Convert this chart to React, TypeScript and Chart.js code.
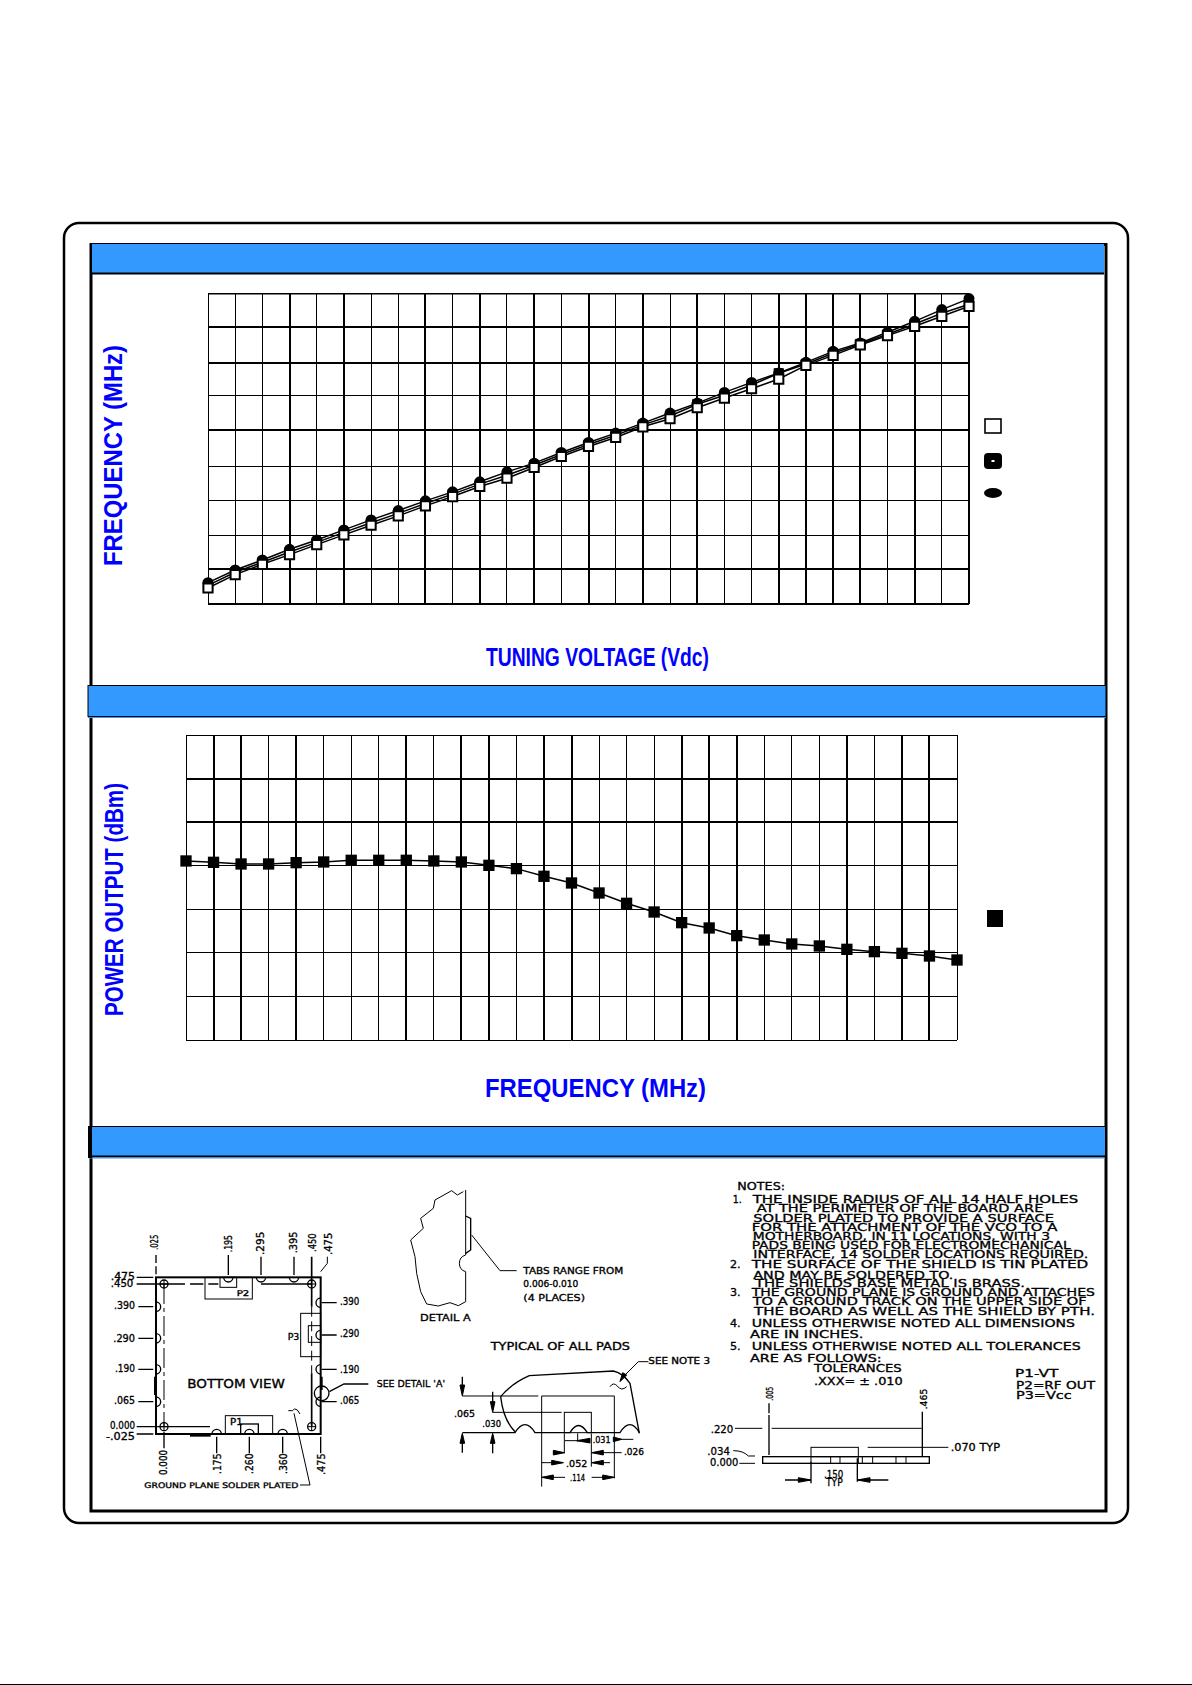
import React, { useEffect, useRef } from "react";
import { Chart, registerables } from "chart.js";

Chart.register(...registerables);

// ---------- chart data (no axis numbers are printed in the reference; values are in grid divisions)
const tuningSteps = [0,1,2,3,4,5,6,7,8,9,10,11,12,13,14,15,16,17,18,19,20,21,22,23,24,25,26,27,28];
const freqLow = [0.465,0.853,1.153,1.434,1.725,2.006,2.287,2.558,2.849,3.12,3.411,3.653,3.963,4.283,4.574,4.835,5.145,5.378,5.698,5.979,6.25,6.531,6.928,7.219,7.519,7.791,8.062,8.353,8.643];
const freqMid = [0.54,0.92,1.21,1.51,1.79,2.08,2.36,2.63,2.92,3.19,3.48,3.74,4.03,4.34,4.63,4.9,5.2,5.46,5.8,6.06,6.36,6.7,6.97,7.28,7.55,7.83,8.13,8.44,8.7];
const freqHigh = [0.62,0.988,1.279,1.589,1.86,2.151,2.442,2.713,2.994,3.256,3.547,3.837,4.089,4.399,4.69,4.961,5.252,5.543,5.833,6.143,6.434,6.705,7.016,7.335,7.578,7.888,8.207,8.547,8.866];
const freqSteps = [0,1,2,3,4,5,6,7,8,9,10,11,12,13,14,15,16,17,18,19,20,21,22,23,24,25,26,27,28];
const powerOut = [4.109,4.078,4.04,4.04,4.07,4.086,4.124,4.124,4.124,4.109,4.086,4.009,3.933,3.757,3.604,3.374,3.137,2.938,2.693,2.571,2.395,2.295,2.204,2.158,2.081,2.028,1.989,1.928,1.836];

// horizontal grid values
const tuningGrid = [0,1.02,2,3.01,4,5.06,6.04,7.01,8.03,9];
const powerGrid = [0,1,2,3,4,5,6,7];

// grid line weights, as they appear in the reference (left to right, bottom to top)
const g1X = [1,1,1,2,1,2,1,1,2,1,2,1,2,1,2,1,2,1,2,1,1,2,2,2,2,1,2,1,2];
const g1Y = [2,2,1,1,1,2,1,2,2,1.5];
const g2X = [1,2,2,1,2,1,1,1,2,1,2,2,1,2,2,1,1,1,2,2,2,1,1,1,2,1,2,2,1];
const g2Y = [1,1,1,1,1,2,2,1];

const FONT = "'Liberation Sans', Arial, sans-serif";
const CAD = "'DejaVu Sans', sans-serif";
const BLUE = "#3399ff";
const TITLE = "#0000ff";

function PlotCanvas({ left, top, width, height, config }: any) {
  const ref = useRef<HTMLCanvasElement>(null);
  useEffect(() => {
    const chart = new Chart(ref.current as HTMLCanvasElement, config);
    return () => chart.destroy();
  }, []);
  return (
    <canvas
      ref={ref}
      width={width}
      height={height}
      style={{ position: "absolute", left, top, width, height }}
    />
  );
}

const baseOptions = (xMax: number, yMax: number, gx: number[], gy: number[], yValues: number[]) => ({
  responsive: false,
  animation: false as const,
  layout: { padding: 20 },
  plugins: { legend: { display: false }, tooltip: { enabled: false } },
  elements: { line: { tension: 0 } },
  scales: {
    x: {
      type: "linear" as const,
      min: 0,
      max: xMax,
      ticks: { display: false, stepSize: 1, autoSkip: false },
      border: { display: false },
      grid: { color: "#000", lineWidth: gx, drawTicks: false },
    },
    y: {
      type: "linear" as const,
      min: 0,
      max: yMax,
      afterBuildTicks: (scale: any) => {
        scale.ticks = yValues.map((value) => ({ value }));
      },
      ticks: { display: false, autoSkip: false },
      border: { display: false },
      grid: { color: "#000", lineWidth: gy, drawTicks: false },
    },
  },
});

const toXY = (xs: number[], ys: number[]) => ys.map((y, i) => ({ x: xs[i], y }));

const tuningConfig: any = {
  type: "line",
  data: {
    datasets: [
      { label: "Low", data: toXY(tuningSteps, freqLow), borderColor: "#000", borderWidth: 1.5, pointStyle: "rect", pointRadius: 6.5, pointBackgroundColor: "#fff", pointBorderColor: "#000", pointBorderWidth: 2, clip: false },
      { label: "Mid", data: toXY(tuningSteps, freqMid), borderColor: "#000", borderWidth: 1.5, pointStyle: "rect", pointRadius: 6.5, pointBackgroundColor: "#000", pointBorderColor: "#000", pointBorderWidth: 1, clip: false },
      { label: "High", data: toXY(tuningSteps, freqHigh), borderColor: "#000", borderWidth: 1.5, pointStyle: "circle", pointRadius: 5.5, pointBackgroundColor: "#000", pointBorderColor: "#000", pointBorderWidth: 0, clip: false },
    ],
  },
  options: baseOptions(28, 9, g1X, g1Y, tuningGrid),
};

const powerConfig: any = {
  type: "line",
  data: {
    datasets: [
      { label: "Power", data: toXY(freqSteps, powerOut), borderColor: "#000", borderWidth: 1.5, pointStyle: "rect", pointRadius: 8, pointBackgroundColor: "#000", pointBorderColor: "#000", pointBorderWidth: 0, clip: false },
    ],
  },
  options: baseOptions(28, 7, g2X, g2Y, powerGrid),
};

// ---------- page furniture
function AxisText({ x, y, len, s, rot, size = 25 }: any) {
  return (
    <text
      transform={`translate(${x},${y})${rot ? " rotate(-90)" : ""}`}
      textLength={len}
      lengthAdjust="spacingAndGlyphs"
      fontFamily={FONT}
      fontSize={size}
      fontWeight="bold"
      fill={TITLE}
    >
      {s}
    </text>
  );
}

// CAD annotation: x, baseline and length are given in 3x crop units inside the scaled groups
function T({ x, y, len, s, rot, size = 31 }: any) {
  return (
    <text
      transform={`translate(${x},${y})${rot ? " rotate(-90)" : ""}`}
      textLength={len}
      lengthAdjust="spacingAndGlyphs"
      fontFamily={CAD}
      fontSize={size}
      stroke="#000"
      strokeWidth={1}
      fill="#000"
    >
      {s}
    </text>
  );
}

const leftDims: [string, number, number, number][] = [
  [".475", 62, 73, 360],
  [".450", 62, 68, 380],
  [".390", 72, 63, 448],
  [".290", 70, 65, 545],
  [".190", 75, 60, 635],
  [".065", 72, 63, 732],
  ["0.000", 60, 75, 808],
  ["-.025", 48, 87, 840],
];
const rightDims: [string, number][] = [[".390", 434], [".290", 530], [".190", 638], [".065", 732]];
const topDims: [string, number, number, number][] = [
  [".195", 425, 277, 52],
  [".295", 523, 285, 70],
  [".395", 622, 280, 65],
  [".450", 678, 276, 56],
  [".475", 725, 285, 67],
];
const bottomDims: [string, number, number, number][] = [
  ["0.000", 232, 945, 75],
  [".175", 392, 942, 62],
  [".260", 490, 942, 62],
  [".360", 590, 942, 62],
  [".475", 704, 945, 65],
];
const cornerHoles = [[222, 372], [665, 372], [222, 800], [665, 800]];
const topHoles = [415, 513, 612];
const bottomHoles = [380, 478, 578];
const leftHoles = [440, 535, 628, 725];
const rightHoles = [428, 525, 628, 725];

function BottomView() {
  return (
    <g transform="translate(90,1160) scale(0.33333)" fill="none" stroke="#000" strokeWidth={4}>
      <rect x={198} y={352} width={494} height={470} strokeWidth={6} />
      <path d="M198 285V352" strokeDasharray="24 10" />
      <path d="M222 372V800" strokeDasharray="60 12 12 12" strokeWidth={3} />
      <path d="M665 290V440M665 640V800" strokeWidth={5} />
      <path d="M665 440V640" strokeDasharray="30 14" strokeWidth={3} />
      <path d="M140 372H285M300 372H340M355 372H385M513 372H665" strokeWidth={5} />
      <path d="M140 352H190M145 440H190M145 535H190M145 628H190M145 725H190M140 800H360M140 822H190" />
      <path d="M695 428H740M695 525H740M695 628H740M695 725H740" />
      <path d="M415 285V345M513 290V345M612 290V345M222 815V865M380 830V880M478 830V880M578 830V880M692 830V880" />
      <path d="M195 650V705M695 650V690" strokeWidth={6} />
      <path d="M300 827H362" strokeWidth={6} />
      <rect x={345} y={352} width={142} height={65} strokeWidth={3} />
      <rect x={390} y={352} width={50} height={30} strokeWidth={3} />
      <rect x={632} y={460} width={60} height={130} strokeWidth={3} />
      <rect x={655} y={497} width={37} height={50} strokeWidth={3} />
      <rect x={406} y={767} width={142} height={55} strokeWidth={3} />
      <rect x={452} y={792} width={53} height={30} strokeWidth={4} />
      {cornerHoles.map(([x, y]) => (
        <g key={`${x}-${y}`}>
          <circle cx={x} cy={y} r={12} />
          <path d={`M${x - 12} ${y}H${x + 12}M${x} ${y - 12}V${y + 12}`} strokeWidth={3} />
        </g>
      ))}
      {topHoles.map((x) => <path key={x} d={`M${x - 14} 352A14 14 0 0 0 ${x + 14} 352`} />)}
      {bottomHoles.map((x) => <path key={x} d={`M${x - 14} 822A14 14 0 0 1 ${x + 14} 822`} />)}
      {leftHoles.map((y) => <path key={y} d={`M198 ${y - 14}A14 14 0 0 1 198 ${y + 14}`} />)}
      {rightHoles.map((y) => <path key={y} d={`M692 ${y - 14}A14 14 0 0 0 692 ${y + 14}`} />)}
      <circle cx={695} cy={700} r={22} />
      <path d="M718 695L762 672H835" />
      <path d="M692 335L712 310V290" strokeWidth={3} />
      <path d="M595 752H608Q612 742 622 750L630 762M612 760L660 975H630" strokeWidth={3} />
      {leftDims.map(([s, x, len, y]) => <T key={s + y} s={s} x={x} len={len} y={y} />)}
      {rightDims.map(([s, y]) => <T key={s + y} s={s} x={750} len={58} y={y} />)}
      {topDims.map(([s, x, y, len]) => <T key={s + x} s={s} x={x} y={y} len={len} rot />)}
      {bottomDims.map(([s, x, y, len]) => <T key={s + x} s={s} x={x} y={y} len={len} rot />)}
      <T s=".025" x={205} y={270} len={46} rot />
      <T s="BOTTOM VIEW" x={292} y={685} len={293} size={36} />
      <T s="P2" x={440} y={408} len={38} size={24} />
      <T s="P3" x={593} y={540} len={35} size={26} />
      <T s="P1" x={420} y={794} len={38} size={26} />
      <T s="GROUND PLANE SOLDER PLATED" x={163} y={983} len={462} size={23} />
      <T s="SEE DETAIL 'A'" x={860} y={682} len={205} size={28} />
    </g>
  );
}

function Details() {
  return (
    <g transform="translate(400,1160) scale(0.33333)" fill="none" stroke="#000" strokeWidth={3}>
      <path d="M197 90V285A26 26 0 0 0 197 335V425L175 437L150 428L115 438L80 432L62 395L50 340L45 290L32 240L70 205L62 175L100 145L105 120L155 92L172 105L190 95" />
      <path d="M197 168L212 175V270L197 280" strokeWidth={4} />
      <path d="M215 225L300 332H350" />
      <path d="M302 710Q335 670 388 647L640 633Q670 640 690 670L718 820M302 710Q310 780 345 815" strokeWidth={4} />
      <path d="M187 818H345Q375 770 405 818H510Q535 775 562 818H660Q690 770 718 818" strokeWidth={4} />
      <rect x={493} y={757} width={81} height={61} />
      <path d="M187 708H415M425 708H643M278 757H485M425 708V980M643 708V955" />
      <path d="M493 820V880M574 820V920M533 820V845M495 842H570M640 838H700M460 878H493M575 878H665M425 908H490M575 908H630M425 952H495M575 952H643" />
      <path d="M187 650V700M187 825V878M278 695V750M278 825V880" strokeWidth={4} />
      <path d="M180 675L187 708L194 675ZM180 850L187 820L194 850ZM271 725L278 757L285 725ZM271 850L278 820L285 850Z" fill="#000" />
      <path d="M530 842L570 835V849ZM665 838L640 831V845ZM493 878L460 871V885ZM575 878L610 871V885ZM490 908L455 901V915ZM575 908L610 901V915ZM425 952L460 945V959ZM643 952L608 945V959Z" fill="#000" />
      <path d="M660 660L715 605H745M630 680Q640 665 652 678Q664 695 680 680" />
      <path d="M660 665L680 645L668 638Z" fill="#000" />
      <T s="TABS RANGE FROM" x={370} y={342} len={300} size={28} />
      <T s="0.006-0.010" x={370} y={382} len={165} size={26} />
      <T s="(4 PLACES)" x={370} y={422} len={185} size={28} />
      <T s="DETAIL A" x={60} y={482} len={152} size={28} />
      <T s="TYPICAL OF ALL PADS" x={272} y={570} len={418} size={30} />
      <T s="SEE NOTE 3" x={745} y={613} len={185} size={26} />
      <T s=".065" x={162} y={772} len={63} size={28} />
      <T s=".030" x={247} y={800} len={56} size={26} />
      <T s=".031" x={578} y={850} len={54} size={26} />
      <T s=".026" x={672} y={886} len={60} size={26} />
      <T s=".052" x={498} y={920} len={64} size={26} />
      <T s=".114" x={510} y={962} len={45} size={26} />
    </g>
  );
}

const notes: [string, number, number, number][] = [
  ["NOTES:", 112, 143, 90],
  ["1.", 98, 27, 130],
  ["THE INSIDE RADIUS OF ALL 14 HALF HOLES", 158, 977, 130],
  ["AT THE PERIMETER OF THE BOARD ARE", 170, 860, 155],
  ["SOLDER PLATED TO PROVIDE A SURFACE", 160, 902, 185],
  ["FOR THE ATTACHMENT OF THE VCO TO A", 155, 917, 212],
  ["MOTHERBOARD, IN 11 LOCATIONS, WITH 3", 158, 892, 240],
  ["PADS BEING USED FOR ELECTROMECHANICAL", 155, 957, 268],
  ["INTERFACE, 14 SOLDER LOCATIONS REQUIRED.", 160, 1005, 295],
  ["2.", 90, 32, 325],
  ["THE SURFACE OF THE SHIELD IS TIN PLATED", 155, 1010, 325],
  ["AND MAY BE SOLDERED TO.", 160, 600, 357],
  ["THE SHIELDS BASE METAL IS BRASS.", 165, 810, 380],
  ["3.", 90, 32, 408],
  ["THE GROUND PLANE IS GROUND AND ATTACHES", 155, 1030, 408],
  ["TO A GROUND TRACK ON THE UPPER SIDE OF", 158, 1002, 435],
  ["THE BOARD AS WELL AS THE SHIELD BY PTH.", 162, 1023, 465],
  ["4.", 90, 32, 500],
  ["UNLESS OTHERWISE NOTED ALL DIMENSIONS", 155, 970, 500],
  ["ARE IN INCHES.", 150, 340, 535],
  ["5.", 90, 32, 570],
  ["UNLESS OTHERWISE NOTED ALL TOLERANCES", 155, 987, 570],
  ["ARE AS FOLLOWS:", 150, 395, 605],
  ["TOLERANCES", 342, 263, 637],
  [".XXX= \u00B1 .010", 342, 266, 675],
  ["P1-VT", 945, 130, 652],
  ["P2=RF OUT", 948, 237, 688],
  ["P3=Vcc", 948, 167, 718],
  [".220", 32, 68, 820],
  [".034", 22, 68, 885],
  ["0.000", 30, 85, 918],
  [".070 TYP", 752, 148, 872],
  [".150", 372, 58, 955],
  ["TYP", 378, 50, 978],
];
const shieldLines = [333, 392, 420, 475, 487, 518, 588, 618];

function Notes() {
  return (
    <g transform="translate(700,1160) scale(0.33333)" fill="none" stroke="#000" strokeWidth={3}>
      {notes.map(([s, x, len, y]) => <T key={s + y} s={s} x={x} len={len} y={y} size={34} />)}
      <T s=".005" x={220} y={722} len={42} size={28} rot />
      <T s=".465" x={680} y={748} len={62} size={28} rot />
      <path d="M207 730V760M207 765V885M667 755V890" strokeWidth={4} />
      <path d="M215 805H665M105 805H187M503 862H745M118 910H165M100 872Q130 872 145 888H165" />
      <rect x={188} y={890} width={500} height={20} strokeWidth={4} />
      {shieldLines.map((x) => <path key={x} d={`M${x} 890V910`} />)}
      <rect x={333} y={862} width={142} height={28} />
      <path d="M333 905V970M472 895V965" strokeWidth={4} />
      <path d="M255 960H333M472 960H565" strokeWidth={4} />
      <path d="M333 960L295 953V967ZM472 960L510 953V967Z" fill="#000" />
    </g>
  );
}

function Furniture() {
  return (
    <svg width={1192} height={1685} style={{ position: "absolute", left: 0, top: 0 }}>
      <rect x={0} y={0} width={1192} height={1685} fill="#fff" />
      <rect x={64} y={223} width={1064} height={1300} rx={15} ry={15} fill="none" stroke="#000" strokeWidth={2.5} />
      <rect x={91} y={244.5} width={1015} height={1266.5} fill="none" stroke="#000" strokeWidth={3} />
      <rect x={92} y={244} width={1012} height={29} fill={BLUE} />
      <path d="M92 273.5H1104" stroke="#000" strokeWidth={2} />
      <rect x={88} y={685.5} width={1018} height={31} fill={BLUE} stroke="#000" strokeWidth={1} />
      <path d="M88 717.5H1106" stroke={BLUE} strokeWidth={1} />
      <rect x={90} y={1127} width={1015} height={29} fill={BLUE} />
      <path d="M90 1126.5H1105" stroke="#000" strokeWidth={1.2} />
      <path d="M90 1156.5H1105" stroke="#000" strokeWidth={2} />
      <path d="M90 1158H1105" stroke={BLUE} strokeWidth={1} />
      <rect x={88} y={1126} width={4} height={32} fill="#000" />
      <path d="M0 1684.5H1192" stroke="#000" strokeWidth={1} />

      <AxisText s="FREQUENCY (MHz)" x={122} y={566} len={221} rot />
      <AxisText s="TUNING VOLTAGE (Vdc)" x={486} y={666} len={223} />
      <AxisText s="POWER OUTPUT (dBm)" x={123} y={1016} len={233} rot />
      <AxisText s="FREQUENCY (MHz)" x={485} y={1097} len={221} />

      {/* legend keys (their captions are blank in the reference) */}
      <rect x={985} y={419} width={16} height={14} fill="#fff" stroke="#000" strokeWidth={1.6} />
      <rect x={984} y={453} width={18} height={16} rx={4} fill="#000" />
      <rect x={991.5} y={460} width={3} height={2} fill="#fff" />
      <ellipse cx={993} cy={493} rx={9} ry={5} fill="#000" />
      <rect x={987} y={910} width={16} height={17} fill="#000" />

      <BottomView />
      <Details />
      <Notes />
    </svg>
  );
}

export default function App() {
  return (
    <div style={{ position: "absolute", left: 0, top: 0, width: 1192, height: 1685, overflow: "hidden", background: "#fff" }}>
      <Furniture />
      <PlotCanvas left={188} top={274} width={801} height={350} config={tuningConfig} />
      <PlotCanvas left={166} top={715} width={811} height={345} config={powerConfig} />
    </div>
  );
}
